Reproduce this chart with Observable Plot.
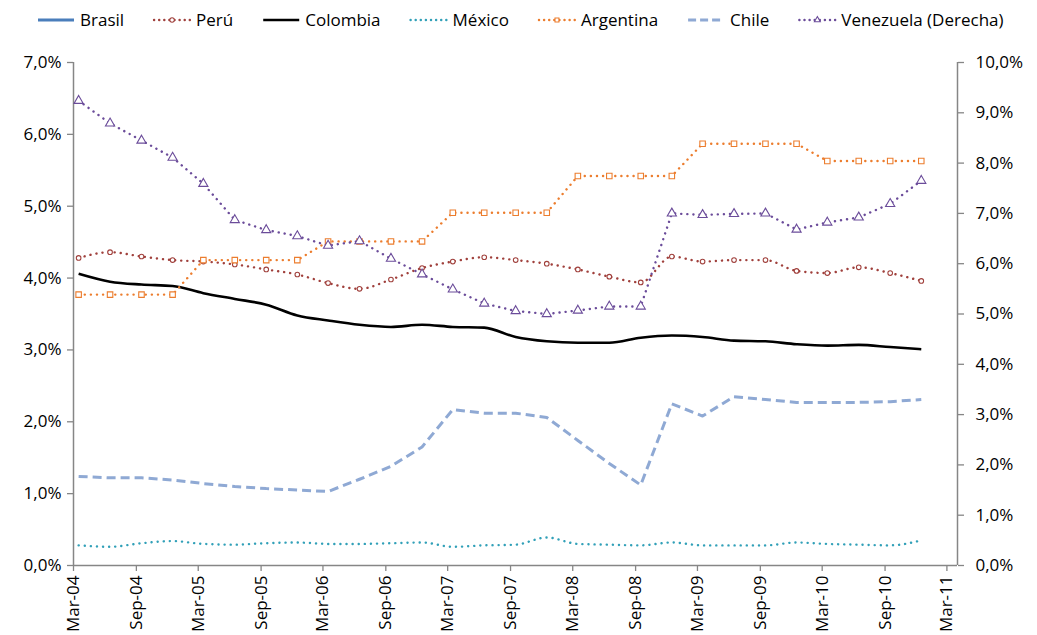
<!DOCTYPE html>
<html>
<head>
<meta charset="utf-8">
<script src="https://cdn.jsdelivr.net/npm/d3@7"></script>
<script src="https://cdn.jsdelivr.net/npm/@observablehq/plot@0.6"></script>
<style>
  body { margin: 0; background: #fff; font-family: "Open Sans", sans-serif; }
  #legend { display: block; }
</style>
</head>
<body>
<svg id="legend" width="1037" height="40"></svg>
<div id="chart"></div>
<script>
// Quarterly observations (end of quarter), Mar-04 .. Dec-10
const quarters = [
  "Mar-04","Jun-04","Sep-04","Dec-04","Mar-05","Jun-05","Sep-05","Dec-05",
  "Mar-06","Jun-06","Sep-06","Dec-06","Mar-07","Jun-07","Sep-07","Dec-07",
  "Mar-08","Jun-08","Sep-08","Dec-08","Mar-09","Jun-09","Sep-09","Dec-09",
  "Mar-10","Jun-10","Sep-10","Dec-10"
];

// Series values, in percent
const brasil = [];
const peru = [4.28,4.36,4.30,4.25,4.23,4.19,4.12,4.05,3.93,3.85,3.98,4.14,4.23,4.29,
              4.25,4.20,4.12,4.02,3.94,4.30,4.23,4.25,4.25,4.10,4.07,4.15,4.07,3.96];
const colombia = [4.06,3.95,3.91,3.89,3.79,3.71,3.63,3.48,3.41,3.35,3.32,3.35,3.32,3.31,
                  3.18,3.12,3.10,3.10,3.17,3.20,3.18,3.13,3.12,3.08,3.06,3.07,3.04,3.01];
const mexico = [0.28,0.26,0.31,0.34,0.30,0.29,0.31,0.32,0.30,0.30,0.31,0.32,0.26,0.28,
                0.29,0.39,0.30,0.29,0.28,0.32,0.28,0.28,0.28,0.32,0.30,0.29,0.28,0.35];
const argentina = [3.77,3.77,3.77,3.77,4.25,4.25,4.25,4.25,4.51,4.51,4.51,4.51,4.91,4.91,
                   4.91,4.91,5.42,5.42,5.42,5.42,5.87,5.87,5.87,5.87,5.63,5.63,5.63,5.63];
const chile = [1.24,1.22,1.22,1.19,1.14,1.10,1.07,1.05,1.03,1.20,1.38,1.65,2.17,2.12,
               2.12,2.06,1.74,1.42,1.12,2.25,2.08,2.35,2.31,2.27,2.27,2.27,2.28,2.31];
// Venezuela is read on the right-hand axis
const venezuela = [9.24,8.79,8.45,8.11,7.59,6.87,6.67,6.55,6.36,6.45,6.10,5.79,5.49,5.21,
                   5.06,5.00,5.07,5.15,5.15,7.00,6.97,6.99,7.00,6.68,6.82,6.92,7.19,7.65];

// Axis ticks
const xTickLabels = ["Mar-04","Sep-04","Mar-05","Sep-05","Mar-06","Sep-06","Mar-07",
                     "Sep-07","Mar-08","Sep-08","Mar-09","Sep-09","Mar-10","Sep-10","Mar-11"];
const leftTicks = [0,1,2,3,4,5,6,7];
const rightTicks = [0,1,2,3,4,5,6,7,8,9,10];
const leftMax = 7, rightMax = 10;
const rightToLeft = leftMax / rightMax;

// Series styling
const series = [
  {name: "Brasil", values: brasil, color: "#4A7EBB", width: 3, dash: null, symbol: null},
  {name: "Perú", values: peru, color: "#A0403C", width: 2.4, dash: "0.1 6", symbol: "circle", r: 2.3, curve: "monotone-x"},
  {name: "Colombia", values: colombia, color: "#000000", width: 2.6, dash: null, symbol: null, curve: "monotone-x"},
  {name: "México", values: mexico, color: "#31A0B8", width: 2.4, dash: "0.1 6", symbol: null, curve: "monotone-x"},
  {name: "Argentina", values: argentina, color: "#EC7D2E", width: 2.4, dash: "0.1 6", symbol: "square", r: 3.1},
  {name: "Chile", values: chile, color: "#8FA9D4", width: 3, dash: "9 5", symbol: null},
  {name: "Venezuela (Derecha)", values: venezuela, color: "#6B4C9A", width: 2.4, dash: "0.1 6", symbol: "triangle", r: 3.4, right: true}
];

const parseQ = d3.utcParse("%b-%y");
const fmtPct = v => v.toFixed(1).replace(".", ",") + "%";

// Points sit mid-month on a monthly date axis
const rows = [];
for (const s of series) {
  s.values.forEach((v, i) => {
    rows.push({
      series: s.name,
      date: d3.utcDay.offset(parseQ(quarters[i]), 15),
      y: s.right ? v * rightToLeft : v
    });
  });
}

const xStart = parseQ(xTickLabels[0]);
const xEnd = d3.utcMonth.offset(parseQ(xTickLabels[xTickLabels.length - 1]), 1);
const axisColor = "#868686";

const marks = [
  Plot.axisX({
    ticks: xTickLabels.map(parseQ),
    tickFormat: d3.utcFormat("%b-%y"),
    tickRotate: -90,
    tickSize: 6,
    tickPadding: 4,
    stroke: axisColor,
    strokeWidth: 1.3,
    fill: "#000",
    label: null
  }),
  Plot.axisY({
    anchor: "left",
    ticks: leftTicks,
    tickFormat: fmtPct,
    tickSize: 6,
    tickPadding: 6,
    stroke: axisColor,
    strokeWidth: 1.3,
    fill: "#000",
    label: null
  }),
  Plot.axisY({
    anchor: "right",
    ticks: rightTicks.map(t => t * rightToLeft),
    tickFormat: t => fmtPct(t / rightToLeft),
    tickSize: 6,
    tickPadding: 12,
    stroke: axisColor,
    strokeWidth: 1.3,
    fill: "#000",
    label: null
  }),
  Plot.ruleY([0], {stroke: axisColor, strokeWidth: 1.5}),
  Plot.ruleX([xStart, xEnd], {stroke: axisColor, strokeWidth: 1.5})
];

for (const s of series) {
  const data = rows.filter(r => r.series === s.name);
  if (!data.length) continue;
  marks.push(Plot.line(data, {
    x: "date", y: "y",
    stroke: s.color,
    strokeWidth: s.width,
    strokeDasharray: s.dash || undefined,
    strokeLinecap: s.dash && s.dash.startsWith("0.1") ? "round" : "butt",
    strokeLinejoin: "round",
    curve: s.curve || "linear"
  }));
}
for (const s of series) {
  if (!s.symbol) continue;
  const data = rows.filter(r => r.series === s.name);
  marks.push(Plot.dot(data, {
    x: "date", y: "y",
    symbol: () => s.symbol,
    r: s.r,
    fill: "white",
    stroke: s.color,
    strokeWidth: 1.1
  }));
}

const chart = Plot.plot({
  width: 1037,
  height: 595,
  marginLeft: 73,
  marginRight: 80,
  marginTop: 22,
  marginBottom: 70,
  style: {fontFamily: "'Open Sans', sans-serif", fontSize: "17px", background: "#fff", color: "#000"},
  x: {type: "utc", domain: [xStart, xEnd]},
  y: {domain: [0, leftMax]},
  symbol: {type: "identity"},
  marks
});
document.getElementById("chart").appendChild(chart);

// Legend row above the plot
const legend = d3.select("#legend");
let lx = 38;
const ly = 20;
for (const s of series) {
  const g = legend.append("g");
  g.append("line")
    .attr("x1", lx).attr("x2", lx + 36).attr("y1", ly).attr("y2", ly)
    .attr("stroke", s.color).attr("stroke-width", s.width)
    .attr("stroke-dasharray", s.dash ? (s.dash.startsWith("0.1") ? "0.1 5" : "8 4") : null)
    .attr("stroke-linecap", s.dash && s.dash.startsWith("0.1") ? "round" : "butt");
  if (s.symbol) {
    const sym = {circle: d3.symbolCircle, square: d3.symbolSquare, triangle: d3.symbolTriangle}[s.symbol];
    g.append("path")
      .attr("d", d3.symbol(sym, Math.PI * 2.2 * 2.2)())
      .attr("transform", `translate(${lx + 18},${ly})`)
      .attr("fill", "white").attr("stroke", s.color).attr("stroke-width", 1.1);
  }
  const t = g.append("text")
    .attr("x", lx + 42).attr("y", ly).attr("dy", "0.35em")
    .attr("font-family", "'Open Sans', sans-serif").attr("font-size", 17)
    .attr("fill", "#000")
    .text(s.name);
  lx += 42 + t.node().getComputedTextLength() + 30;
}
</script>
</body>
</html>
